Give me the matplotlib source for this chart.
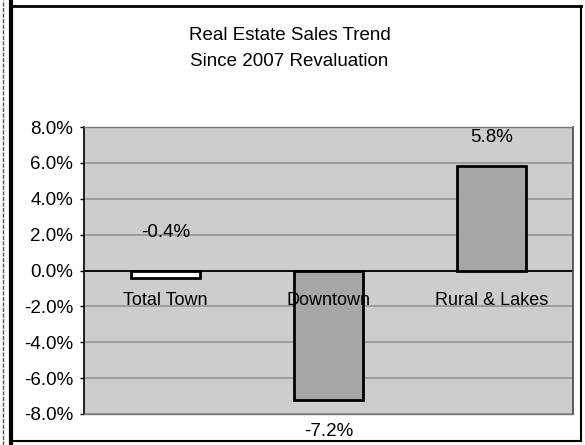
import numpy as np
import matplotlib
matplotlib.use('Agg')
import matplotlib.pyplot as plt
from matplotlib.lines import Line2D
from matplotlib.ticker import FuncFormatter

categories = ['Total Town', 'Downtown', 'Rural & Lakes']
values = [-0.4, -7.2, 5.8]
value_labels = ['-0.4%', '-7.2%', '5.8%']
y_ticks = [-8, -6, -4, -2, 0, 2, 4, 6, 8]
title_lines = ['Real Estate Sales Trend', 'Since 2007 Revaluation']

plt.rcParams['font.family'] = ['Liberation Sans', 'DejaVu Sans']

fig = plt.figure(figsize=(5.85, 4.45), dpi=100)
fig.patch.set_facecolor('white')
ax = fig.add_axes([84 / 585, 31 / 445, 489 / 585, 287 / 445])
ax.set_facecolor('#cdcdcd')

x = np.arange(len(categories))
fills = ['white', '#a6a6a6', '#a6a6a6']
ax.bar(x, values, width=0.42, color=fills, edgecolor='black', linewidth=2, zorder=3)

ax.set_xlim(-0.5, len(categories) - 0.5)
ax.set_ylim(y_ticks[0], y_ticks[-1])
ax.set_yticks(y_ticks)
ax.yaxis.set_major_formatter(FuncFormatter(lambda v, p: '%.1f%%' % v))
ax.tick_params(axis='y', labelsize=13.5, length=3, width=1, pad=5, colors='black')
ax.set_xticks([])
ax.grid(axis='y', color='#9a9a9a', linewidth=1.3, zorder=1)
ax.axhline(0, color='black', linewidth=1.3, zorder=2)

for side in ['top', 'bottom']:
    ax.spines[side].set_color('#777777')
    ax.spines[side].set_linewidth(1)
ax.spines['left'].set_color('black')
ax.spines['left'].set_linewidth(1.2)
ax.spines['right'].set_color('#444444')
ax.spines['right'].set_linewidth(1.2)

# category names sit just under the zero line, like excel does
for xi, name in zip(x, categories):
    ax.text(xi, -1.7, name, ha='center', va='center', fontsize=13, zorder=4)

# data labels where the original put them
label_y = [2.1, -9.0, 7.4]
for xi, ly, txt in zip(x, label_y, value_labels):
    ax.text(xi, ly, txt, ha='center', va='center', fontsize=13.5, zorder=4, clip_on=False)

fig.text(0.495, 1 - 35 / 445, title_lines[0], ha='center', va='center', fontsize=13.5)
fig.text(0.495, 1 - 62 / 445, title_lines[1], ha='center', va='center', fontsize=13.5)

# outer chart frame from the scan
W, H = 585.0, 445.0
fig.add_artist(Line2D([3 / W, 3 / W], [0, 1], color='#555555', linewidth=1, linestyle=(0, (3, 1))))
fig.add_artist(Line2D([11 / W, 11 / W], [0, 1], color='black', linewidth=3))
fig.add_artist(Line2D([11 / W, 581 / W], [1 - 6 / H, 1 - 6 / H], color='black', linewidth=2))
fig.add_artist(Line2D([581 / W, 581 / W], [1 - 6 / H, 1 - 441 / H], color='black', linewidth=1.5))
fig.add_artist(Line2D([11 / W, 581 / W], [1 - 441 / H, 1 - 441 / H], color='black', linewidth=1.5))

fig.savefig('out.png', dpi=100)
